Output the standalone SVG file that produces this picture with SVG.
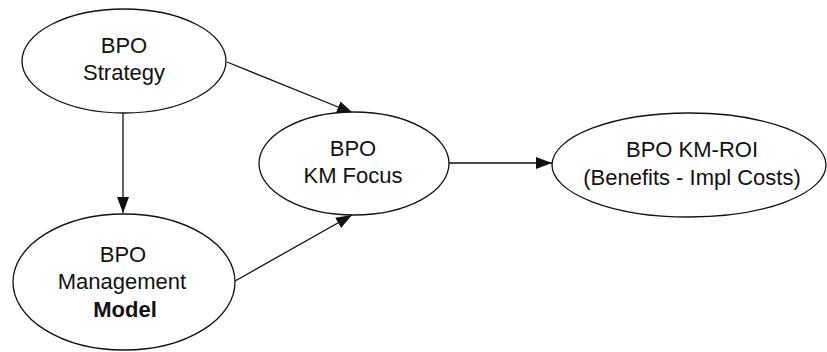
<svg xmlns="http://www.w3.org/2000/svg" width="827" height="352" viewBox="0 0 827 352">
  <style>
    .node { fill: #ffffff; stroke: #111111; stroke-width: 1.3; }
    .label { font-family: "Liberation Sans", Arial, sans-serif; font-size: 22px; fill: #111111; text-anchor: middle; }
    .bold { font-weight: bold; }
    .edge { stroke: #111111; stroke-width: 1.3; fill: none; marker-end: url(#arrow); }
  </style>
  <defs>
    <marker id="arrow" markerUnits="userSpaceOnUse" markerWidth="18" markerHeight="14" refX="16" refY="7" orient="auto">
      <path d="M0,1 L16,7 L0,13 Z" fill="#111111"/>
    </marker>
  </defs>
  <rect width="827" height="352" fill="#ffffff"/>

  <g id="connectors">
    <line class="edge" x1="227" y1="62" x2="353" y2="113"/>
    <line class="edge" x1="123" y1="113" x2="123" y2="213"/>
    <line class="edge" x1="235" y1="281" x2="352" y2="215"/>
    <line class="edge" x1="449" y1="163" x2="552" y2="163"/>
  </g>

  <g id="bpo-strategy">
    <ellipse class="node" cx="124" cy="61" rx="102" ry="52"/>
    <text class="label" x="124" y="53">BPO</text>
    <text class="label" x="124" y="80">Strategy</text>
  </g>

  <g id="bpo-management-model">
    <ellipse class="node" cx="124" cy="282" rx="111" ry="68"/>
    <text class="label" x="123" y="262">BPO</text>
    <text class="label" x="122" y="289">Management</text>
    <text class="label bold" x="125" y="317">Model</text>
  </g>

  <g id="bpo-km-focus">
    <ellipse class="node" cx="354" cy="163.5" rx="95" ry="51.5"/>
    <text class="label" x="353" y="156">BPO</text>
    <text class="label" x="353" y="183">KM Focus</text>
  </g>

  <g id="bpo-km-roi">
    <ellipse class="node" cx="689" cy="165" rx="137" ry="52"/>
    <text class="label" x="692" y="157">BPO KM-ROI</text>
    <text class="label" x="692" y="185">(Benefits - Impl Costs)</text>
  </g>
</svg>
